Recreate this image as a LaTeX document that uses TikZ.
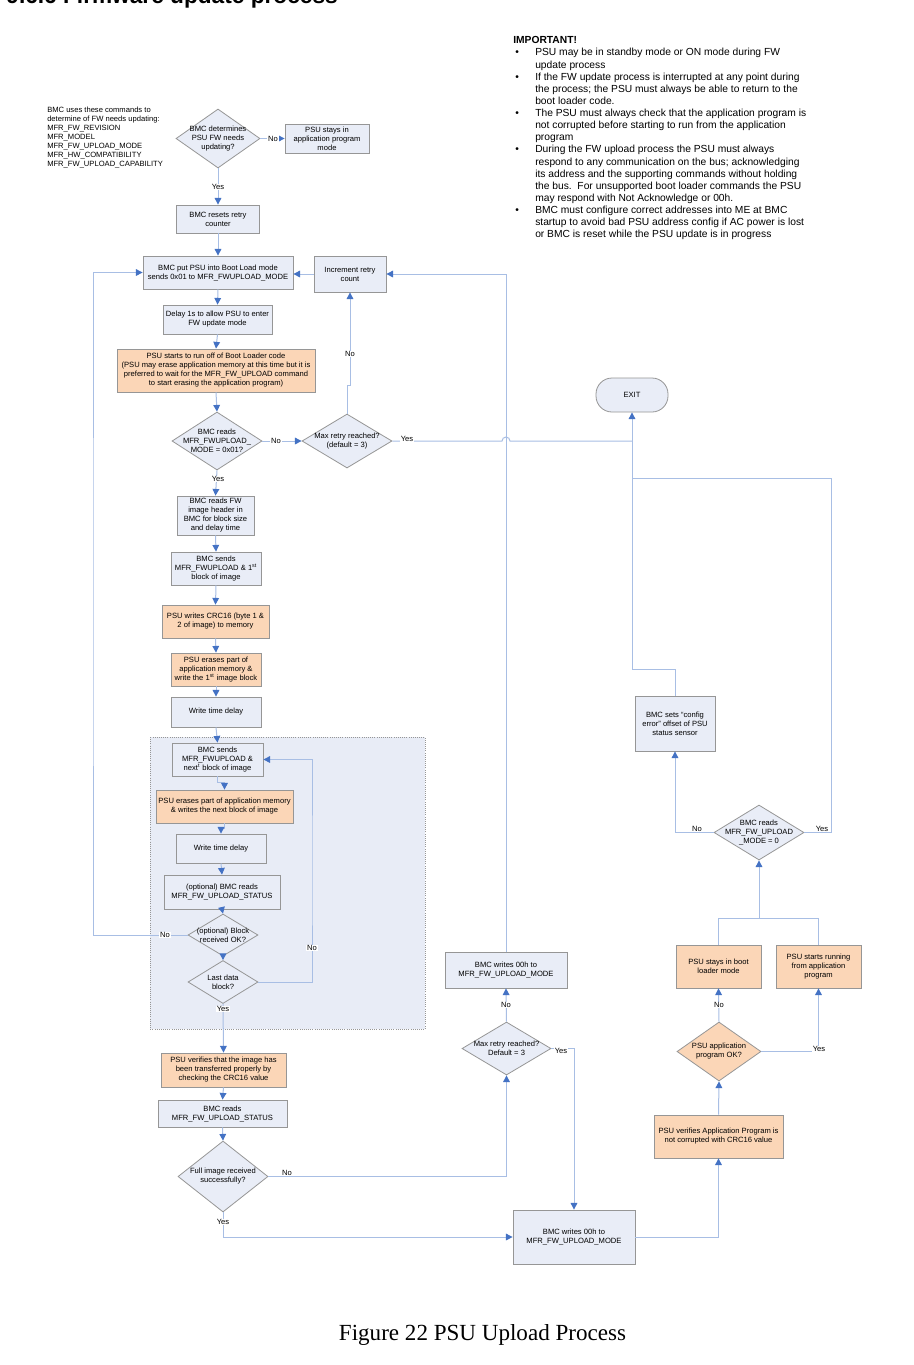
\documentclass[tikz,border=0pt]{standalone}
\usepackage{fontspec}
\setmainfont{Liberation Sans}
\newfontfamily\capfont{Liberation Serif}
\usetikzlibrary{arrows.meta,shapes.geometric}
\definecolor{boxfill}{RGB}{233,237,247}
\definecolor{ofill}{RGB}{251,214,183}
\definecolor{bgray}{RGB}{150,150,150}
\definecolor{lblue}{RGB}{168,190,228}
\definecolor{ablue}{RGB}{68,114,196}
\definecolor{grpfill}{RGB}{232,236,246}
\begin{document}
\begin{tikzpicture}[x=0.75pt,y=-0.75pt,
  txt/.style={font=\fontsize{5.7}{6.75}\selectfont, align=center, inner sep=0pt},
  box/.style 2 args={txt, draw=bgray, fill=boxfill, line width=0.6pt, minimum width=#1*0.75pt, minimum height=#2*0.75pt},
  obox/.style 2 args={box={#1}{#2}, fill=ofill},
  dia/.style 2 args={diamond, draw=bgray, fill=boxfill, line width=0.6pt, inner sep=0pt, minimum width=#1*0.75pt, minimum height=#2*0.75pt},
  odia/.style 2 args={dia={#1}{#2}, fill=ofill},
  conn/.style={draw=lblue, line width=0.75pt},
  arr/.style={conn, -{Triangle[length=5pt,width=5pt,color=ablue]}},
  lab/.style={txt, fill=white, inner sep=0.6pt},
  grp/.style={draw=bgray, densely dotted, fill=grpfill, line width=0.6pt}
]
\useasboundingbox (0,0) rectangle (914,1365);
\fill[white] (0,0) rectangle (914,1365);

% title (cut off at top, as in the reference) and caption
\node[font=\bfseries\fontsize{17}{20}\selectfont, anchor=base east, inner sep=0pt] (title) at (338,3) {9.6.6 Firmware update process};
\node[font=\capfont\fontsize{17.3}{20}\selectfont, anchor=base, inner sep=0pt] (cap) at (482.5,1340) {Figure 22 PSU Upload Process};

% notes
\node[txt, align=left, anchor=north west] (note) at (47,106.5) {BMC uses these commands to\\determine of FW needs updating:\\MFR\_FW\_REVISION\\MFR\_MODEL\\MFR\_FW\_UPLOAD\_MODE\\MFR\_HW\_COMPATIBILITY\\MFR\_FW\_UPLOAD\_CAPABILITY};

\node[anchor=north west, inner sep=0pt, font=\fontsize{7.7}{9.1}\selectfont] (imp) at (513,35) {%
\begin{tabular}{@{}p{16.5pt}@{}l@{}}
\multicolumn{2}{@{}l@{}}{\textbf{IMPORTANT!}}\\
\hspace{1.5pt}\textbullet & PSU may be in standby mode or ON mode during FW\\
 & update process\\
\hspace{1.5pt}\textbullet & If the FW update process is interrupted at any point during\\
 & the process; the PSU must always be able to return to the\\
 & boot loader code.\\
\hspace{1.5pt}\textbullet & The PSU must always check that the application program is\\
 & not corrupted before starting to run from the application\\
 & program\\
\hspace{1.5pt}\textbullet & During the FW upload process the PSU must always\\
 & respond to any communication on the bus; acknowledging\\
 & its address and the supporting commands without holding\\
 & the bus.\ \ For unsupported boot loader commands the PSU\\
 & may respond with Not Acknowledge or 00h.\\
\hspace{1.5pt}\textbullet & BMC must configure correct addresses into ME at BMC\\
 & startup to avoid bad PSU address config if AC power is lost\\
 & or BMC is reset while the PSU update is in progress
\end{tabular}};

% group background
\path[grp] (150,737) rectangle (425,1029);

% nodes
\node[dia={84}{59}] (d1) at (218,138.5) {};
\node[txt] (d1t) at (d1) {BMC determines\\PSU FW needs\\updating?};
\node[box={84}{29}] (r1) at (327,138.5) {PSU stays in\\application program\\mode};
\node[box={83}{28}] (b1) at (218,219) {BMC resets retry\\counter};
\node[box={150}{33}] (b2) at (218,272.5) {BMC put PSU into Boot Load mode\\sends 0x01 to MFR\_FWUPLOAD\_MODE};
\node[box={72}{36}] (inc) at (350,274) {Increment retry\\count};
\node[box={109}{29}] (b3) at (217.5,319.5) {Delay 1s to allow PSU to enter\\FW update mode};
\node[obox={198}{43}] (o1) at (216,370.5) {PSU starts to run off of Boot Loader code\\(PSU may erase application memory at this time but it is\\preferred to wait for the MFR\_FW\_UPLOAD command\\to start erasing the application program)};
\node[dia={90}{58}] (d2) at (217,441) {};
\node[txt] (d2t) at (d2) {BMC reads\\MFR\_FWUPLOAD\_\\MODE = 0x01?};
\node[dia={90}{54}] (d3) at (347,441) {};
\node[txt] (d3t) at (d3) {Max retry reached?\\(default = 3)};
\node[txt, draw=bgray, fill=boxfill, line width=0.6pt, rounded corners=12pt, minimum width=72*0.75pt, minimum height=34*0.75pt] (exit) at (632,395) {EXIT};
\node[box={77}{39}] (b4) at (215.5,515.5) {BMC reads FW\\image header in\\BMC for block size\\and delay time};
\node[box={90}{33}] (b5) at (216,568.5) {BMC sends\\MFR\_FWUPLOAD \& 1\textsuperscript{st}\\block of image};
\node[obox={107}{33}] (o2) at (215.5,621.5) {PSU writes CRC16 (byte 1 \&\\2 of image) to memory};
\node[obox={90}{33}] (o3) at (216,669.5) {PSU erases part of\\application memory \&\\write the 1\textsuperscript{st} image block};
\node[box={90}{30}] (b6) at (216,712) {Write time delay};
\node[box={91}{33}] (b7) at (217.5,759.5) {BMC sends\\MFR\_FWUPLOAD \&\\next\textsuperscript{t} block of image};
\node[obox={137}{33}] (o4) at (224.5,806.5) {PSU erases part of application memory\\\& writes the next block of image};
\node[box={90}{29}] (b8) at (221,848.5) {Write time delay};
\node[box={116}{34}] (b9) at (222,892) {(optional) BMC reads\\MFR\_FW\_UPLOAD\_STATUS};
\node[dia={70}{42}] (d4) at (223,935) {};
\node[txt] (d4t) at (d4) {(optional) Block\\received OK?};
\node[dia={70}{43}] (d5) at (223,982) {};
\node[txt] (d5t) at (d5) {Last data\\block?};
\node[obox={125}{34}] (o5) at (223.5,1070) {PSU verifies that the image has\\been transferred properly by\\checking the CRC16 value};
\node[box={129}{27}] (b10) at (222.5,1113.5) {BMC reads\\MFR\_FW\_UPLOAD\_STATUS};
\node[dia={90}{71}] (d6) at (223,1176.5) {};
\node[txt] (d6t) at (d6) {Full image received\\successfully?};
\node[dia={89}{53}] (d7) at (506.5,1048.5) {};
\node[txt] (d7t) at (d7) {Max retry reached?\\Default = 3};
\node[box={122}{36}] (b11) at (506,970) {BMC writes 00h to\\MFR\_FW\_UPLOAD\_MODE};
\node[box={122}{54}] (b12) at (574,1237) {BMC writes 00h to\\MFR\_FW\_UPLOAD\_MODE};
\node[obox={129}{43}] (o6) at (718.5,1136.5) {PSU verifies Application Program is\\not corrupted with CRC16 value};
\node[odia={84}{59}] (d8) at (719,1051.5) {};
\node[txt] (d8t) at (d8) {PSU application\\program OK?};
\node[obox={85}{43}] (o7) at (718.5,966.5) {PSU stays in boot\\loader mode};
\node[obox={85}{43}] (o8) at (818.5,966.5) {PSU starts running\\from application\\program};
\node[dia={90}{55}] (d9) at (759,832.5) {};
\node[txt] (d9t) at (d9) {BMC reads\\MFR\_FW\_UPLOAD\\\_MODE = 0};
\node[box={80}{55}] (cfg) at (675,723.5) {BMC sets ``config\\error'' offset of PSU\\status sensor};

\coordinate (j1) at (632,441);
\coordinate (j2) at (632,478);
\coordinate (j3) at (759,918);

% connectors
\draw[arr] (d1.east) -- (r1.west);
\draw[arr] (d1.south) -- (b1.north);
\draw[arr] (b1.south) -- (b2.north);
\draw[arr] (b2.south) -- (b3.north);
\draw[arr] (b3.south) -- (o1.north);
\draw[arr] (o1.south) -- (d2.north);
\draw[arr] (d2.east) -- (d3.west);
\draw[arr] (d3.north) -- ++(0,-28) -| (inc.south);
\draw[arr] (inc.west) -- (inc.west -| b2.east);
\draw[conn] (d3.east) -- (502,441) arc[start angle=180,end angle=0,radius=3pt] -- (j1);
\draw[arr] (cfg.north) -- ++(0,-26) -| (exit.south);
\draw[conn] (d9.east) -| (831,478) -- (j2);
\draw[arr] (b11.north) |- (inc.east);
\draw[arr] (d2.south) -- (b4.north);
\draw[arr] (b4.south) -- (b5.north);
\draw[arr] (b5.south) -- (o2.north);
\draw[arr] (o2.south) -- (o3.north);
\draw[arr] (o3.south) -- (b6.north);
\draw[arr] (b6.south) -- (b7.north);
\draw[arr] (b7.south) -- ++(0,6) -| (o4.north);
\draw[arr] (o4.south) -- ++(0,5) -| (b8.north);
\draw[arr] (b8.south) -- (b9.north);
\draw[arr] (b9.south) -- (d4.north);
\draw[arr] (d4.south) -- (d5.north);
\draw[arr] (d4.west) -| (93,600) |- (b2.west);
\draw[arr] (d5.east) -| (312,870) |- (b7.east);
\draw[arr] (d5.south) -- (o5.north);
\draw[arr] (o5.south) -- (b10.north);
\draw[arr] (b10.south) -- (d6.north);
\draw[arr] (d6.east) -| (d7.south);
\draw[arr] (d6.south) |- (b12.west);
\draw[arr] (d7.north) -- (b11.south);
\draw[arr] (d7.east) -| (b12.north);
\draw[arr] (b12.east) -| (o6.south);
\draw[arr] (o6.north) -- (d8.south);
\draw[arr] (d8.north) -- (o7.south);
\draw[arr] (d8.east) -| (o8.south);
\draw[conn] (o7.north) |- (j3) -| (o8.north);
\draw[arr] (j3) -- (d9.south);
\draw[arr] (d9.west) -| (cfg.south);

% labels
\node[lab] (l1) at (273,138.5) {No};
\node[lab] (l2) at (218,187) {Yes};
\node[lab] (l3) at (276,441) {No};
\node[lab] (l4) at (218,479) {Yes};
\node[lab] (l5) at (350,354) {No};
\node[lab] (l6) at (407,439) {Yes};
\node[lab] (l7) at (165,935) {No};
\node[lab] (l8) at (312,948) {No};
\node[lab] (l9) at (223,1009) {Yes};
\node[lab] (l10) at (287,1173) {No};
\node[lab] (l11) at (223,1222) {Yes};
\node[lab] (l12) at (506,1005) {No};
\node[lab] (l13) at (561,1051) {Yes};
\node[lab] (l14) at (719,1005) {No};
\node[lab] (l15) at (819,1049) {Yes};
\node[lab] (l16) at (697,829) {No};
\node[lab] (l17) at (822,829) {Yes};
\end{tikzpicture}
\end{document}
